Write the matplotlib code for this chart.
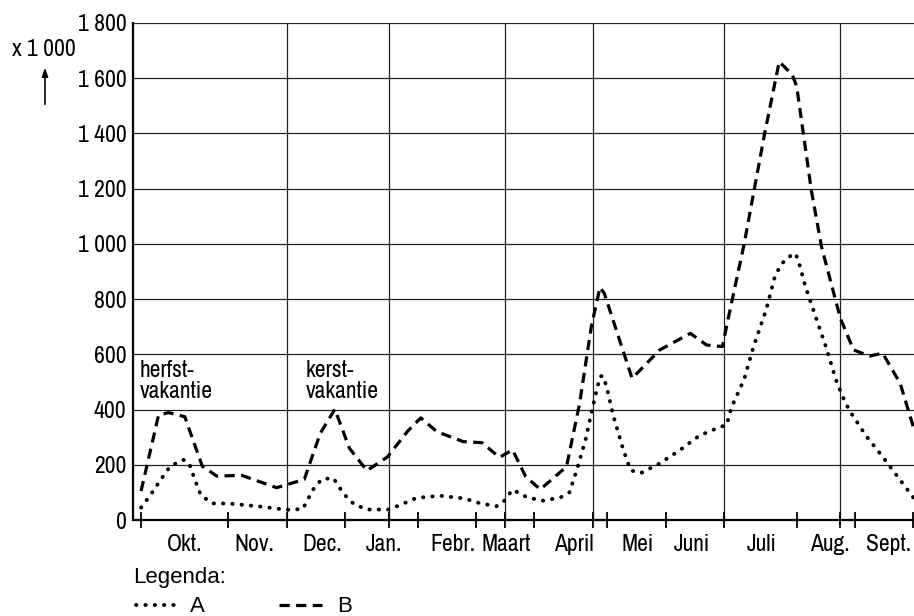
import numpy as np
import matplotlib
matplotlib.use("Agg")
import matplotlib.pyplot as plt
from matplotlib import font_manager

# ---- data (x in weeks from start of school year, values x 1000) ----
weeks_a = [0, 0.7, 1.4, 2.0, 2.9, 3.3, 3.7, 4.1, 4.9, 6.0, 8.0, 10.0, 11.1, 11.8, 12.4,
           13.2, 13.9, 14.6, 15.5, 17.0, 17.8, 18.9, 20.5, 22.2, 23.3, 24.4, 24.9, 25.5,
           26.5, 27.6, 28.8, 29.4, 29.9, 30.5, 31.0, 31.5, 31.7, 31.95, 32.4, 33.1, 33.6,
           34.3, 35.6, 37.0, 38.3, 39.6, 40.2, 40.5, 41.4, 42.0, 42.9, 43.5, 43.9, 44.4,
           44.9, 45.1, 45.6, 46.3, 47.0, 47.7, 48.1, 48.6, 49.8, 50.9, 52.1, 53.0]
values_a = [45, 95, 150, 195, 218, 205, 145, 90, 60, 60, 50, 37, 40, 110, 148,
            152, 95, 58, 38, 38, 55, 80, 88, 78, 60, 50, 68, 110,
            82, 70, 82, 100, 180, 290, 410, 520, 522, 483, 380, 254, 180,
            170, 205, 254, 305, 334, 345, 405, 511, 622, 761, 881, 924, 951,
            966, 942, 845, 736, 628, 507, 453, 398, 302, 229, 145, 82]

weeks_b = [0, 1.2, 1.9, 3.0, 4.2, 5.2, 6.9, 9.3, 11.2, 12.3, 13.3, 14.3, 15.5, 16.9,
           18.3, 19.2, 20.3, 22.1, 23.4, 24.6, 25.5, 26.4, 27.4, 29.2, 30.1, 30.9,
           31.5, 31.8, 33.7, 35.6, 37.7, 38.8, 39.9, 40.3, 41.4, 42.8, 43.8, 44.7,
           45.0, 46.0, 46.7, 48.0, 48.9, 50.0, 50.9, 52.1, 53.0]
values_b = [105, 380, 389, 374, 195, 159, 162, 117, 147, 314, 401, 260, 179, 228,
            322, 370, 320, 284, 280, 227, 254, 157, 111, 193, 423, 700,
            843, 820, 513, 616, 676, 634, 628, 730, 1002, 1400, 1660, 1612,
            1570, 1195, 990, 730, 616, 594, 604, 495, 338]

month_labels = ["Okt.", "Nov.", "Dec.", "Jan.", "Febr.", "Maart", "April",
                "Mei", "Juni", "Juli", "Aug.", "Sept."]
month_pos = [3.0, 7.8, 12.4, 16.7, 21.4, 25.05, 29.7, 34.1, 37.8, 42.6, 47.3, 51.3]
tick_weeks = [0, 6, 10, 14, 17, 19, 23, 25, 27, 31, 32, 36, 40, 45, 48, 49, 53]
grid_weeks = [10, 17, 25, 31, 40, 48]
y_ticks = [0, 200, 400, 600, 800, 1000, 1200, 1400, 1600, 1800]

# ---- fonts: a narrow grotesque if one is there, else plain Liberation Sans ----
names = {f.name for f in font_manager.fontManager.ttflist}
narrow = "Liberation Sans"
for cand in ["Liberation Sans Narrow", "Archivo Narrow"]:
    if cand in names:
        narrow = cand
        break
reg = "Liberation Sans"
nsize = 17 if narrow != "Liberation Sans" else 15

fig = plt.figure(figsize=(9.14, 6.16), dpi=100)
ax = fig.add_axes([0.1459, 0.1558, 0.8541, 0.8069])

ax.set_xlim(-0.53, 53.05)
ax.set_ylim(0, 1800)

# grid
for y in y_ticks[1:]:
    ax.axhline(y, color="#222222", lw=0.9, zorder=1)
for w in grid_weeks:
    ax.axvline(w, color="#222222", lw=0.9, zorder=1)

ax.plot(weeks_a, values_a, color="black", lw=2.8, linestyle=(0, (0.1, 2.3)),
        dash_capstyle="round", solid_capstyle="round", zorder=3, clip_on=False)
ax.plot(weeks_b, values_b, color="black", lw=2.3, linestyle=(0, (3.2, 2.0)),
        zorder=3, clip_on=False)

for s in ["top", "right"]:
    ax.spines[s].set_visible(False)
ax.spines["left"].set_linewidth(1.6)
ax.spines["bottom"].set_linewidth(1.6)

ax.set_yticks(y_ticks)
ax.set_yticklabels([f"{v:,}".replace(",", " ") for v in y_ticks],
                   fontfamily=narrow, fontsize=nsize)
ax.tick_params(axis="y", length=0, pad=5)

ax.set_xticks(tick_weeks)
ax.set_xticklabels([])
ax.tick_params(axis="x", which="major", direction="inout", length=11.5, width=1.3)
ax.set_xticks(month_pos, minor=True)
ax.set_xticklabels(month_labels, minor=True, fontfamily=narrow, fontsize=nsize)
ax.tick_params(axis="x", which="minor", length=0, pad=10)

ax.text(-0.12, 580, "herfst-\nvakantie", fontfamily=narrow, fontsize=nsize,
        va="top", ha="left", linespacing=1.0, zorder=4)
ax.text(11.3, 580, "kerst-\nvakantie", fontfamily=narrow, fontsize=nsize,
        va="top", ha="left", linespacing=1.0, zorder=4)

# unit label with arrow
fig.text(12 / 914, 1 - 50 / 616, "x 1 000", fontfamily=narrow, fontsize=nsize,
         va="center", ha="left")
ax.annotate("", xy=(45, 616 - 65), xytext=(45, 616 - 107),
            xycoords="figure pixels", textcoords="figure pixels",
            arrowprops=dict(arrowstyle="-|>,head_length=0.5,head_width=0.18",
                            color="black", lw=1.2))

# legend drawn by hand
fig.text(133 / 914, 1 - 577 / 616, "Legenda:", fontfamily=reg, fontsize=16,
         va="center", ha="left")
fig.add_artist(plt.Line2D([136 / 914, 180 / 914], [1 - 605 / 616] * 2, color="black",
                          lw=2.8, linestyle=(0, (0.1, 2.3)), dash_capstyle="round"))
fig.add_artist(plt.Line2D([279 / 914, 322 / 914], [1 - 605 / 616] * 2, color="black",
                          lw=2.3, linestyle=(0, (3.2, 2.0))))
fig.text(190 / 914, 1 - 606 / 616, "A", fontfamily=reg, fontsize=16, va="center", ha="left")
fig.text(337 / 914, 1 - 606 / 616, "B", fontfamily=reg, fontsize=16, va="center", ha="left")

fig.savefig("out.png", dpi=100)
